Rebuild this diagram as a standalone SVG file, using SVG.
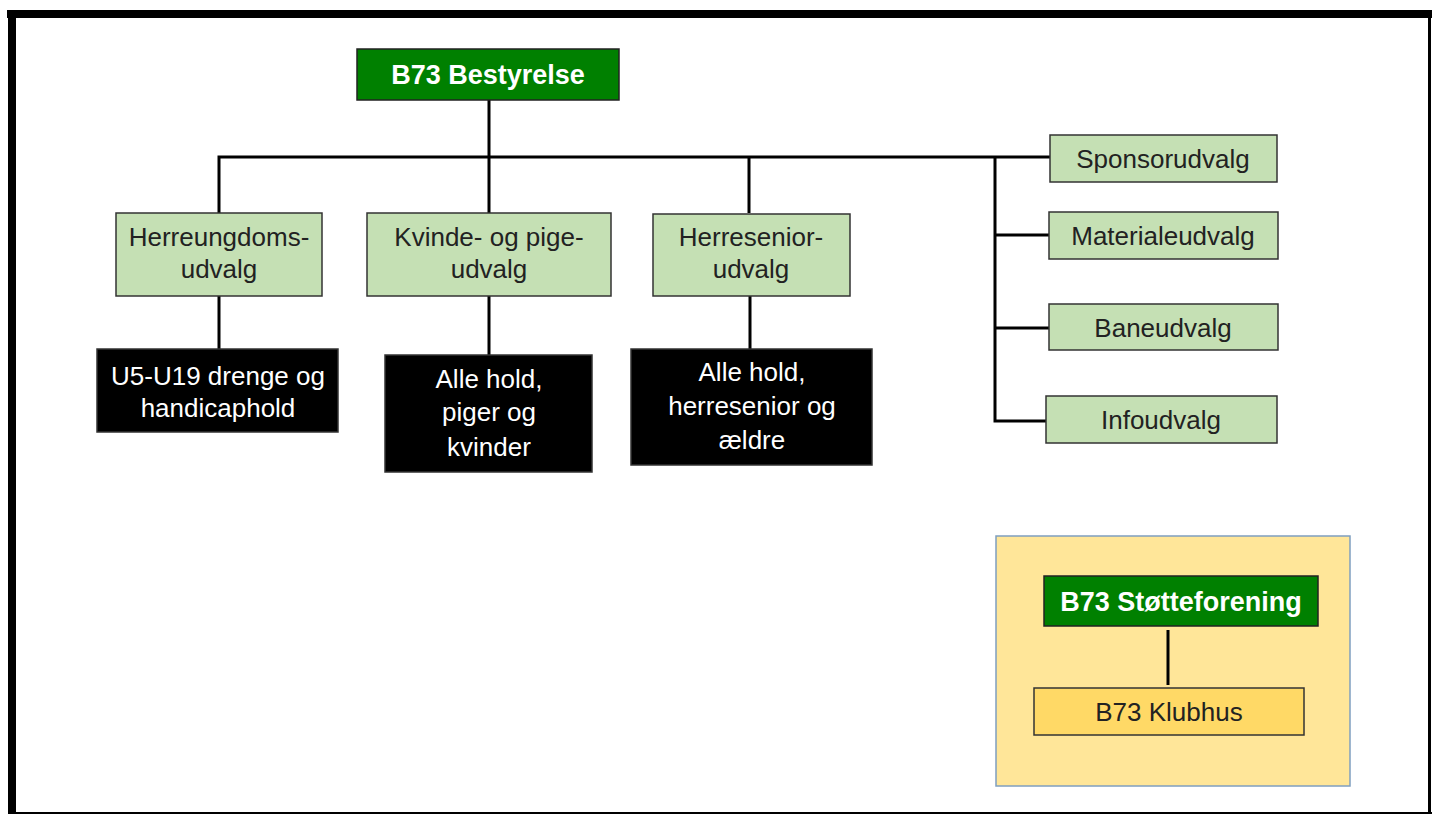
<svg xmlns="http://www.w3.org/2000/svg" width="1432" height="814" viewBox="0 0 1432 814">
<style>
text{font-family:"Liberation Sans",Arial,sans-serif;font-size:26px;text-anchor:middle}
.g{fill:#c5e0b4;stroke:#333;stroke-width:1.5}
.k{fill:#000;stroke:#333;stroke-width:1.5}
.d{fill:#008000;stroke:#222;stroke-width:1.5}
.w{fill:#fff}
.b{fill:#fff;font-weight:bold;font-size:27px}
.t{fill:#222}
.c{stroke:#000;stroke-width:3;fill:none}
</style>
<rect x="0" y="0" width="1432" height="814" fill="#fff"/>
<g id="frame">
<rect x="7" y="10" width="1425" height="8" fill="#000"/>
<rect x="8" y="10" width="8" height="804" fill="#000"/>
<rect x="1428" y="10" width="3" height="804" fill="#000"/>
<rect x="8" y="812" width="1424" height="2" fill="#000"/>
</g>
<g id="stotte-panel">
<rect x="996" y="536" width="354" height="250" fill="#ffe699" stroke="#7f9fc0" stroke-width="1.5"/>
</g>
<g id="connectors">
<path class="c" d="M489 100V213 M219 213V157H1050 M749 157V213 M995 157V421H1046 M995 235H1049 M995 328H1049"/>
<path class="c" d="M219 296V349 M489 296V355 M750 296V349"/>
<path class="c" d="M1168 630V685"/>
</g>
<g id="bestyrelse">
<rect class="d" x="357" y="49" width="262" height="51"/>
<text class="b" x="488" y="84">B73 Bestyrelse</text>
</g>
<g id="herreungdom">
<rect class="g" x="116" y="213" width="206" height="83"/>
<text class="t" x="219" y="246">Herreungdoms-</text>
<text class="t" x="219" y="278">udvalg</text>
</g>
<g id="kvinde">
<rect class="g" x="367" y="213" width="244" height="83"/>
<text class="t" x="489" y="246">Kvinde- og pige-</text>
<text class="t" x="489" y="278">udvalg</text>
</g>
<g id="herresenior">
<rect class="g" x="653" y="214" width="197" height="82"/>
<text class="t" x="751" y="246">Herresenior-</text>
<text class="t" x="751" y="278">udvalg</text>
</g>
<g id="u5u19">
<rect class="k" x="97" y="349" width="241" height="83"/>
<text class="w" x="218" y="385">U5-U19 drenge og</text>
<text class="w" x="218" y="417">handicaphold</text>
</g>
<g id="allehold-piger">
<rect class="k" x="385" y="355" width="207" height="117"/>
<text class="w" x="489" y="388">Alle hold,</text>
<text class="w" x="489" y="421">piger og</text>
<text class="w" x="489" y="456">kvinder</text>
</g>
<g id="allehold-herre">
<rect class="k" x="631" y="349" width="241" height="116"/>
<text class="w" x="752" y="381">Alle hold,</text>
<text class="w" x="752" y="415">herresenior og</text>
<text class="w" x="752" y="449">ældre</text>
</g>
<g id="sponsor">
<rect class="g" x="1050" y="135" width="227" height="47"/>
<text class="t" x="1163" y="168">Sponsorudvalg</text>
</g>
<g id="material">
<rect class="g" x="1049" y="212" width="229" height="47"/>
<text class="t" x="1163" y="245">Materialeudvalg</text>
</g>
<g id="bane">
<rect class="g" x="1049" y="304" width="229" height="46"/>
<text class="t" x="1163" y="337">Baneudvalg</text>
</g>
<g id="info">
<rect class="g" x="1046" y="396" width="231" height="47"/>
<text class="t" x="1161" y="429">Infoudvalg</text>
</g>
<g id="stotteforening">
<rect class="d" x="1044" y="576" width="274" height="50"/>
<text class="b" x="1181" y="611">B73 Støtteforening</text>
</g>
<g id="klubhus">
<rect x="1034" y="688" width="270" height="47" fill="#ffd966" stroke="#333" stroke-width="1.5"/>
<text class="t" x="1169" y="721">B73 Klubhus</text>
</g>
</svg>
